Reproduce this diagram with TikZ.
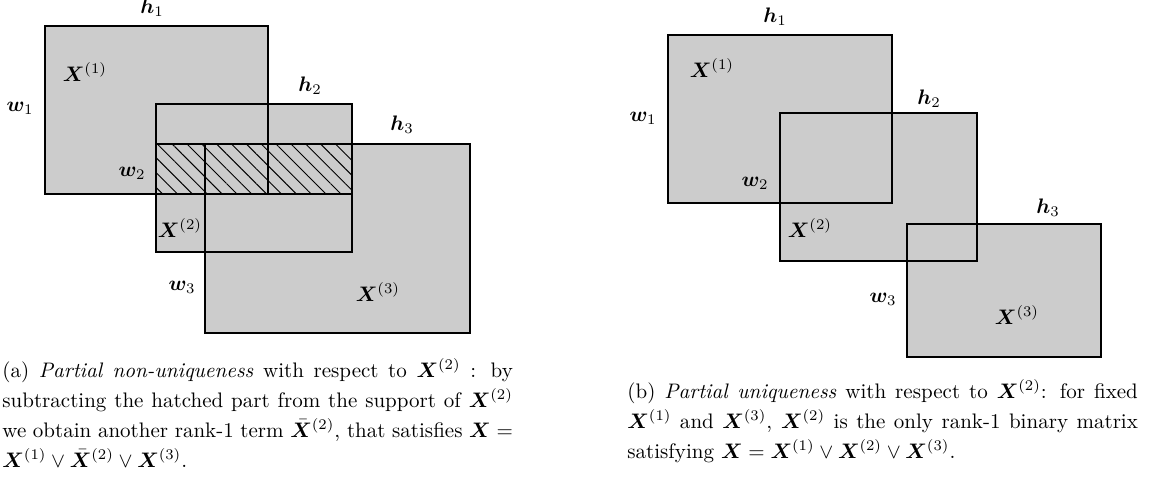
\documentclass[tikz,border=0pt]{standalone}
\usepackage{amsmath}
\usepackage{amssymb}
\usepackage{bm}
\usetikzlibrary{patterns.meta}

\begin{document}
\begin{tikzpicture}[x=0.476pt, y=-0.476pt,
    cell/.style={fill=gray!40},
    rim/.style={line width=0.8pt},
    midrim/.style={line width=1.3pt},
    hatch/.style={pattern={Lines[angle=-45,distance=5pt,line width=0.45pt]}},
    capt/.style={anchor=north west, inner sep=0pt, text width=243pt, align=justify,
      font=\fontsize{10}{14.3}\selectfont}]
  \useasboundingbox (0,0) rectangle (1149,477);

  % (a) partial non-uniqueness
  \fill [cell] (45,26) rectangle (268,194);
  \fill [cell] (156,104) rectangle (352,252);
  \fill [cell] (205,144) rectangle (470,333);
  \fill [hatch] (156,144) rectangle (352,194);
  \draw [rim] (156,144) rectangle (352,194);
  \draw [rim] (45,26) rectangle (268,194);
  \draw [rim] (205,144) rectangle (470,333);
  \draw [midrim] (156,104) rectangle (352,252);
  \node (ah1) at (152,8) {$\bm{h}_1$};
  \node (ah2) at (310,86) {$\bm{h}_2$};
  \node (ah3) at (402,125) {$\bm{h}_3$};
  \node (aw1) at (20,108) {$\bm{w}_1$};
  \node (aw2) at (132,173) {$\bm{w}_2$};
  \node (aw3) at (182,287) {$\bm{w}_3$};
  \node (aX1) at (85,72) {$\bm{X}^{(1)}$};
  \node (aX2) at (180,228) {$\bm{X}^{(2)}$};
  \node (aX3) at (378,292) {$\bm{X}^{(3)}$};
  \node [capt] (capa) at (2,358) {(a) \textit{Partial non-uniqueness} with respect to
    $\bm{X}^{(2)}$ : by subtracting the hatched part from the support of $\bm{X}^{(2)}$
    we obtain another rank-1 term $\bar{\bm{X}}^{(2)}$, that satisfies $\bm{X} =
    \bm{X}^{(1)} \vee \bar{\bm{X}}^{(2)} \vee \bm{X}^{(3)}$.};

  % (b) partial uniqueness
  \fill [cell] (668,35) rectangle (892,203);
  \fill [cell] (780,113) rectangle (977,261);
  \fill [cell] (907,224) rectangle (1101,357);
  \draw [rim] (668,35) rectangle (892,203);
  \draw [rim] (907,224) rectangle (1101,357);
  \draw [midrim] (780,113) rectangle (977,261);
  \node (bh1) at (775,17) {$\bm{h}_1$};
  \node (bh2) at (929,99) {$\bm{h}_2$};
  \node (bh3) at (1048,208) {$\bm{h}_3$};
  \node (bw1) at (643,118) {$\bm{w}_1$};
  \node (bw2) at (755,183) {$\bm{w}_2$};
  \node (bw3) at (883,299) {$\bm{w}_3$};
  \node (bX1) at (712,68) {$\bm{X}^{(1)}$};
  \node (bX2) at (810,228) {$\bm{X}^{(2)}$};
  \node (bX3) at (1017,315) {$\bm{X}^{(3)}$};
  \node [capt] (capb) at (627,379) {(b) \textit{Partial uniqueness} with respect to
    $\bm{X}^{(2)}$: for fixed $\bm{X}^{(1)}$ and $\bm{X}^{(3)}$, $\bm{X}^{(2)}$ is the
    only rank-1 binary matrix satisfying $\bm{X} = \bm{X}^{(1)} \vee \bm{X}^{(2)} \vee
    \bm{X}^{(3)}$.};
\end{tikzpicture}
\end{document}
